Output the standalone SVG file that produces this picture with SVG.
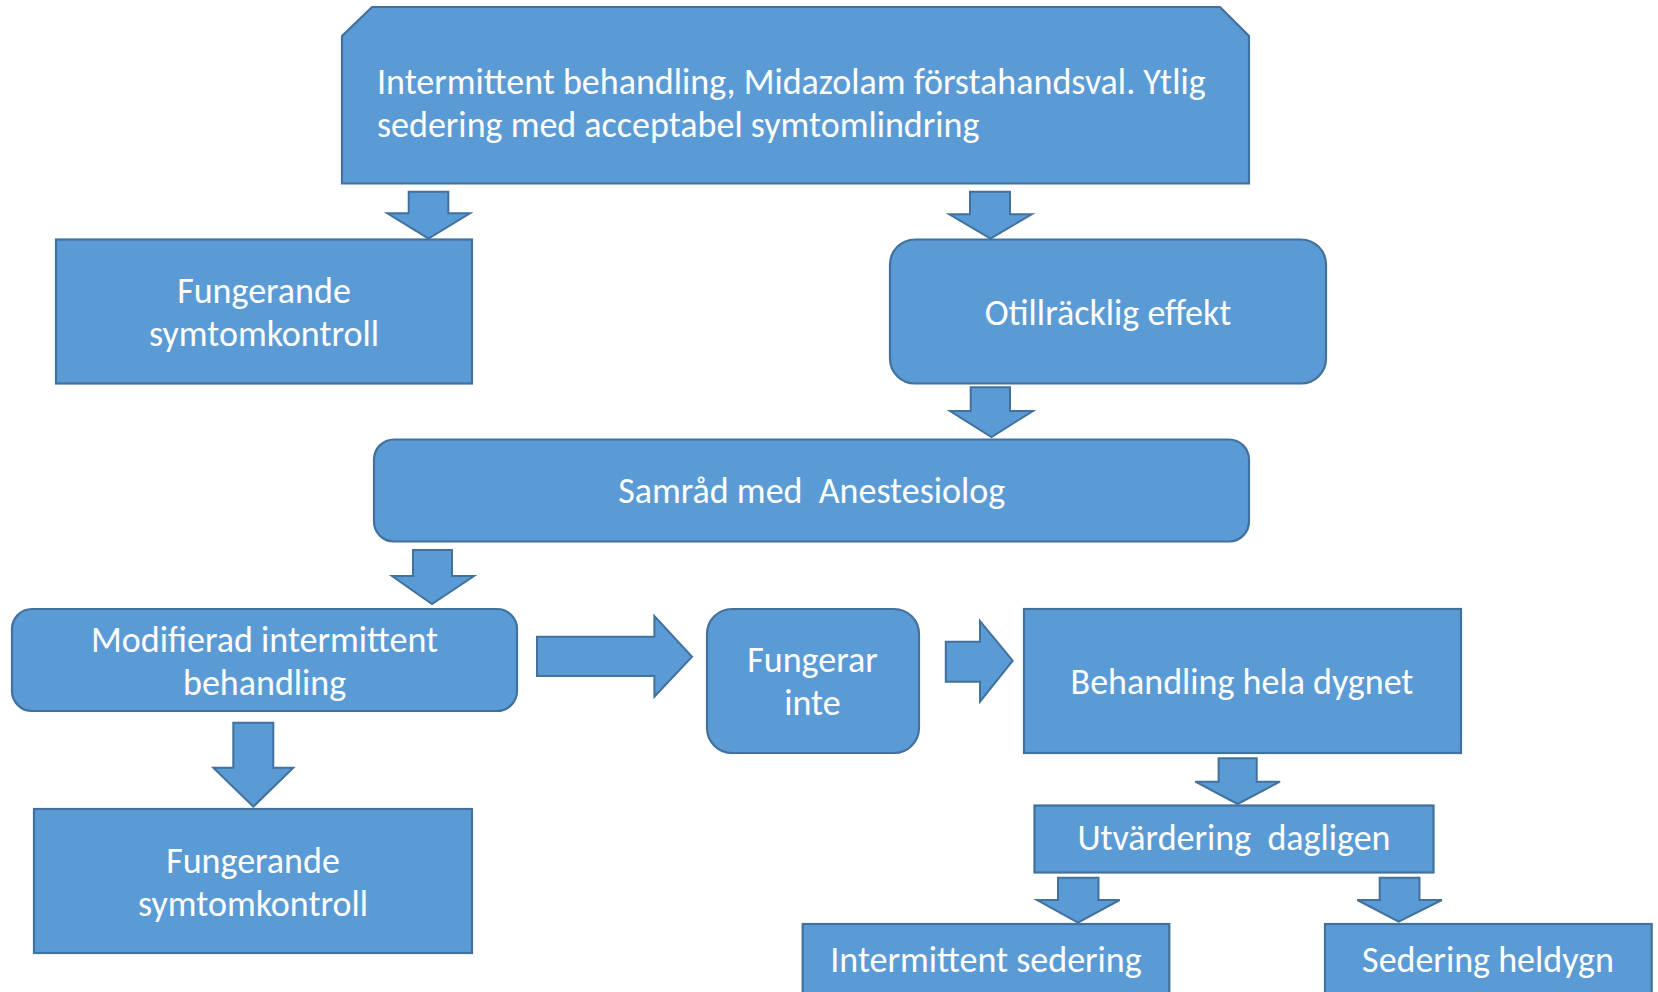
<svg xmlns="http://www.w3.org/2000/svg" width="1658" height="992" viewBox="0 0 1658 992">
<style>
.box{fill:#5B9BD5;stroke:#41719C;stroke-width:2.2}
.arr{fill:#5B9BD5;stroke:#41719C;stroke-width:2;stroke-linejoin:miter}
.t{font-family:Carlito,Calibri,Lato,"Liberation Sans",sans-serif;font-size:36px;fill:#FFFFFF;text-anchor:middle}
.tl{text-anchor:start}
</style>
<rect width="1658" height="992" fill="#FFFFFF"/>
<g id="connectors">
<polygon class="arr" points="408.7,191.7 448.3,191.7 448.3,213.3 470,213.3 428.5,238.5 387.3,213.3 408.7,213.3"/>
<polygon class="arr" points="970,191.7 1010,191.7 1010,214.3 1031.7,214.3 990.5,238.5 949.3,214.3 970,214.3"/>
<polygon class="arr" points="970.7,387.3 1010,387.3 1010,411 1033,411 991.5,437 950,411 970.7,411"/>
<polygon class="arr" points="413,550 452,550 452,576 474,576 432,604 392,576 413,576"/>
<polygon class="arr" points="233.3,722.7 273.3,722.7 273.3,767.7 293.3,767.7 253.3,806.7 213.3,767.7 233.3,767.7"/>
<polygon class="arr" points="1218.6,758.3 1256.7,758.3 1256.7,781.7 1280,781.7 1237.6,804 1195.3,781.7 1218.6,781.7"/>
<polygon class="arr" points="1058,877.7 1098.5,877.7 1098.5,900 1119.7,900 1078,922.7 1037,900 1058,900"/>
<polygon class="arr" points="1379.7,877.7 1419.5,877.7 1419.5,900 1441.9,900 1398.7,921.7 1357.3,900 1379.7,900"/>
<polygon class="arr" points="537,636.7 654.4,636.7 654.4,616 692,656.7 654.4,696.7 654.4,676 537,676"/>
<polygon class="arr" points="945.8,641.7 980,641.7 980,621 1012.7,660.7 980,701.7 980,681.7 945.8,681.7"/>
</g>
<g id="node-top">
<polygon class="box" points="342,36 372,7 1220,7 1249,36 1249,183.5 342,183.5"/>
<text class="t tl" x="377" y="94">Intermittent behandling, Midazolam förstahandsval. Ytlig</text>
<text class="t tl" x="377" y="137.3">sedering med acceptabel symtomlindring</text>
</g>
<g id="node-fungerande1">
<rect class="box" x="56" y="239.5" width="416" height="144"/>
<text class="t" x="264" y="303">Fungerande</text>
<text class="t" x="264" y="346.3">symtomkontroll</text>
</g>
<g id="node-otillracklig">
<rect class="box" x="890" y="239.5" width="436" height="144" rx="25" ry="25"/>
<text class="t" x="1108" y="325.3">Otillräcklig effekt</text>
</g>
<g id="node-samrad">
<rect class="box" x="374" y="439.5" width="875" height="102" rx="20" ry="20"/>
<text class="t" x="811.7" y="503" xml:space="preserve">Samråd med  Anestesiolog</text>
</g>
<g id="node-modifierad">
<rect class="box" x="12" y="609" width="505" height="102" rx="20" ry="20"/>
<text class="t" x="264.6" y="651.8">Modifierad intermittent</text>
<text class="t" x="264.6" y="694.8">behandling</text>
</g>
<g id="node-fungerar-inte">
<rect class="box" x="707" y="609" width="212" height="144" rx="25" ry="25"/>
<text class="t" x="812.5" y="672">Fungerar</text>
<text class="t" x="812.5" y="715.3">inte</text>
</g>
<g id="node-behandling">
<rect class="box" x="1024" y="609" width="437" height="144"/>
<text class="t" x="1242" y="694">Behandling hela dygnet</text>
</g>
<g id="node-utvardering">
<rect class="box" x="1034.5" y="805.5" width="399" height="67"/>
<text class="t" x="1234" y="850.3" xml:space="preserve">Utvärdering  dagligen</text>
</g>
<g id="node-intermittent-sedering">
<rect class="box" x="802.7" y="924" width="366.6" height="100"/>
<text class="t" x="986" y="972">Intermittent sedering</text>
</g>
<g id="node-sedering-heldygn">
<rect class="box" x="1325" y="924" width="326.7" height="100"/>
<text class="t" x="1488" y="972">Sedering heldygn</text>
</g>
<g id="node-fungerande2">
<rect class="box" x="34" y="809" width="438" height="144"/>
<text class="t" x="253" y="873">Fungerande</text>
<text class="t" x="253" y="916.3">symtomkontroll</text>
</g>
</svg>
